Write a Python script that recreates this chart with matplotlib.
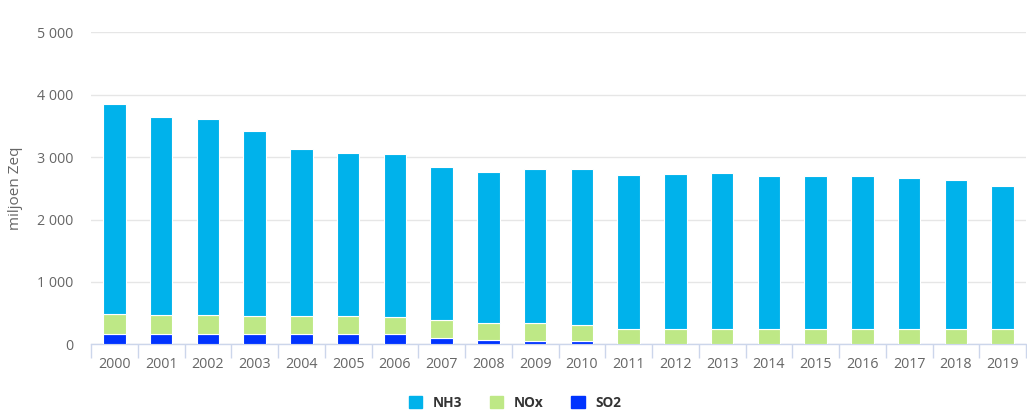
import matplotlib
matplotlib.use("Agg")
import matplotlib.pyplot as plt
from matplotlib.patches import Patch
from matplotlib.ticker import FuncFormatter, FixedLocator
import numpy as np

years = [str(y) for y in range(2000, 2020)]
so2 = [165, 165, 165, 165, 165, 165, 165, 106, 64, 48, 48, 5, 5, 5, 5, 5, 5, 5, 5, 5]
nox = [325, 309, 309, 288, 288, 288, 268, 283, 273, 289, 261, 240, 240, 240, 240, 240, 240, 240, 240, 240]
nh3 = [3356, 3169, 3136, 2970, 2672, 2608, 2612, 2457, 2429, 2467, 2495, 2463, 2479, 2505, 2447, 2447, 2447, 2425, 2383, 2287]
yticks = [0, 1000, 2000, 3000, 4000, 5000]

c_nh3 = "#00B2EB"
c_nox = "#BEE886"
c_so2 = "#0033FF"

plt.rcParams['font.family'] = ['Open Sans', 'DejaVu Sans']

fig = plt.figure(figsize=(10.27, 4.13), dpi=100)
ax = fig.add_axes([91/1027, (413-344.3)/413, 935/1027, 312/413])

x = np.arange(len(years))
w = 0.48
so2 = np.array(so2); nox = np.array(nox); nh3 = np.array(nh3)
kw = dict(width=w, edgecolor="white", linewidth=0.8, zorder=3)
ax.bar(x, so2, color=c_so2, **kw)
ax.bar(x, nox, bottom=so2, color=c_nox, **kw)
ax.bar(x, nh3, bottom=so2 + nox, color=c_nh3, **kw)

ax.set_xlim(-0.5, len(years) - 0.5)
ax.set_ylim(0, 5000)
ax.set_yticks(yticks)
ax.yaxis.set_major_formatter(FuncFormatter(lambda v, p: f"{int(v):,}".replace(",", " ")))
ax.grid(axis="y", color="#e6e6e6", linewidth=1, zorder=0)
ax.set_axisbelow(True)

ax.set_xticks(x)
ax.set_xticklabels(years)
ax.xaxis.set_minor_locator(FixedLocator(np.arange(-0.5, len(years), 1.0)))
ax.tick_params(axis="x", which="major", length=0, pad=9, labelsize=10.3, labelcolor="#666666")
ax.tick_params(axis="x", which="minor", length=10, width=1, color="#ccd6eb")
ax.tick_params(axis="y", length=0, pad=13, labelsize=10.3, labelcolor="#666666")

for s in ["top", "right", "left"]:
    ax.spines[s].set_visible(False)
ax.spines["bottom"].set_color("#ccd6eb")
ax.spines["bottom"].set_linewidth(1)

fig.text(16/1027, 1 - 188/413, "miljoen Zeq", rotation=90, ha="center", va="center",
         fontsize=11, color="#666666")

handles = [Patch(facecolor=c_nh3, edgecolor=c_nh3, label="NH3"),
           Patch(facecolor=c_nox, edgecolor=c_nox, label="NOx"),
           Patch(facecolor=c_so2, edgecolor=c_so2, label="SO2")]
leg = fig.legend(handles=handles, loc="center", bbox_to_anchor=(515/1027, 1 - 403/413),
                 ncol=3, frameon=False, handlelength=1.0, handleheight=1.0,
                 handletextpad=0.8, columnspacing=2.0,
                 prop={"weight": "bold", "size": 9.8})
for t in leg.get_texts():
    t.set_color("#333333")

fig.savefig("out.png", dpi=100)
